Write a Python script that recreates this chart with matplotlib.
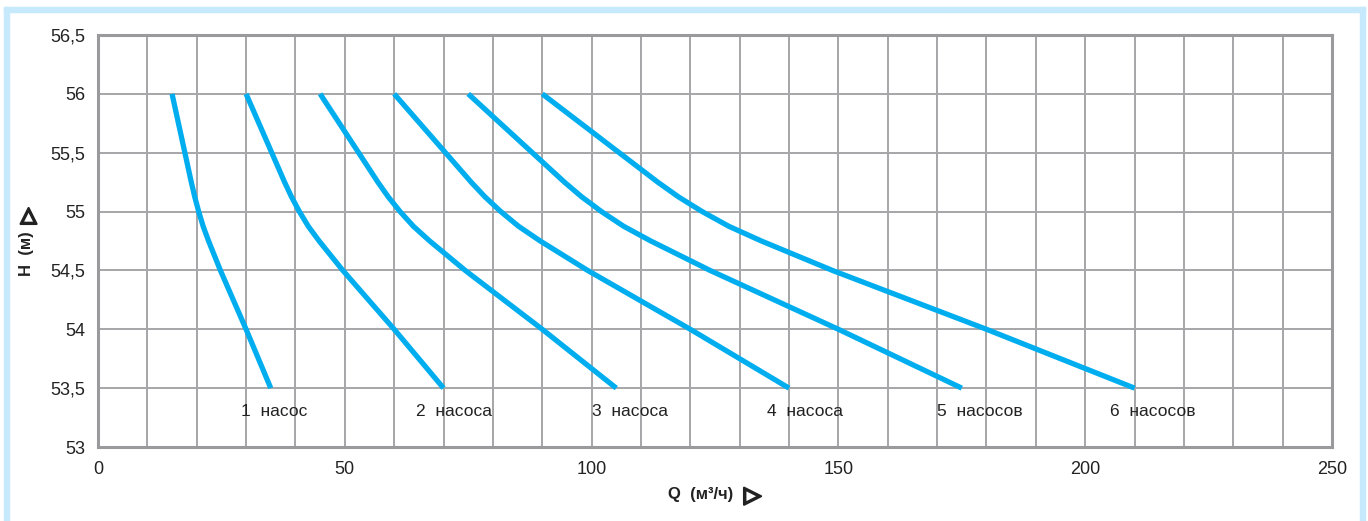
import matplotlib
matplotlib.use("Agg")
import matplotlib.pyplot as plt
import matplotlib.patheffects as pe
from matplotlib.patches import Rectangle

plt.rcParams['font.family'] = ['Liberation Sans', 'DejaVu Sans']

# head values (m) at which the curves were read
head = [56, 55.75, 55.5, 55.25, 55.125, 55, 54.875, 54.75, 54.5, 54.25, 54, 53.75, 53.5]

# flow (m3/h) for 1..6 pumps working in parallel
q_1 = [15, 16.3, 17.6, 18.9, 19.6, 20.4, 21.3, 22.4, 24.8, 27.4, 30, 32.5, 35]
q_2 = [30, 32.6, 35.2, 37.8, 39.2, 40.8, 42.6, 44.8, 49.6, 54.8, 60, 65, 70]
q_3 = [45, 48.9, 52.8, 56.7, 58.8, 61.2, 63.9, 67.2, 74.4, 82.2, 90, 97.5, 105]
q_4 = [60, 65.2, 70.4, 75.6, 78.4, 81.6, 85.2, 89.6, 99.2, 109.6, 120, 130, 140]
q_5 = [75, 81.5, 88.0, 94.5, 98.0, 102.0, 106.5, 112.0, 124.0, 137.0, 150, 162.5, 175]
q_6 = [90, 97.8, 105.6, 113.4, 117.6, 122.4, 127.8, 134.4, 148.8, 164.4, 180, 195, 210]
curves = [q_1, q_2, q_3, q_4, q_5, q_6]

curve_labels = ['1  насос', '2  насоса', '3  насоса',
                '4  насоса', '5  насосов', '6  насосов']
label_q = [29, 64.5, 100, 135.5, 170, 205]

x_ticks = [0, 50, 100, 150, 200, 250]
y_ticks = [53, 53.5, 54, 54.5, 55, 55.5, 56, 56.5]
y_ticklabels = ['53', '53,5', '54', '54,5', '55', '55,5', '56', '56,5']

blue = '#00aeef'
grid_c = '#a6a6a8'
spine_c = '#9a9a9c'
frame_c = '#c6e9fb'

fig = plt.figure(figsize=(13.68, 5.21), dpi=100)

# light blue frame (left, top, right)
px = fig.dpi_scale_trans
for x0, y0, w, h in [(4, 0, 5, 514), (4, 509, 1361, 5), (1360, 0, 5, 514)]:
    fig.patches.append(Rectangle((x0 / 100, y0 / 100), w / 100, h / 100,
                                 transform=px, color=frame_c, zorder=0))

ax = fig.add_axes([98 / 1368, 74 / 521, 1234 / 1368, 412 / 521])
ax.set_xlim(0, 250)
ax.set_ylim(53, 56.5)

for v in range(0, 251, 10):
    ax.axvline(v, color=grid_c, lw=1.4, zorder=1)
for v in y_ticks:
    ax.axhline(v, color=grid_c, lw=1.4, zorder=1)

for q in curves:
    ax.plot(q, head, color=blue, lw=3.8, solid_capstyle='butt',
            solid_joinstyle='round', zorder=3)

for txt, q in zip(curve_labels, label_q):
    ax.text(q, 53.3, txt, fontsize=12.5, color='#222222',
            ha='left', va='center', zorder=4)

for s in ax.spines.values():
    s.set_color(spine_c)
    s.set_linewidth(2.2)

ax.set_xticks(x_ticks)
ax.set_yticks(y_ticks)
ax.set_yticklabels(y_ticklabels)
ax.tick_params(length=0, labelsize=13, colors='#222222')
ax.tick_params(axis='x', pad=10)
ax.tick_params(axis='y', pad=9)

# axis titles with heavy outlined arrows
bold_tri = [pe.withStroke(linewidth=1.6, foreground='#222222')]
fig.text(668 / 1368, 1 - 495 / 521, 'Q  (м³/ч)', fontsize=12, fontweight='bold',
         color='#222222', ha='left', va='center')
fig.text(744 / 1368, 1 - 496 / 521, '▷', fontsize=16, color='#222222',
         ha='left', va='center', family='DejaVu Sans', path_effects=bold_tri)
fig.text(27 / 1368, 1 - 276 / 521, 'H  (м)', fontsize=12, fontweight='bold',
         color='#222222', ha='center', va='bottom', rotation=90)
fig.text(28 / 1368, 1 - 224 / 521, '▷', fontsize=15, color='#222222',
         ha='center', va='bottom', rotation=90, family='DejaVu Sans',
         path_effects=bold_tri)

fig.savefig('out.png', dpi=100)
